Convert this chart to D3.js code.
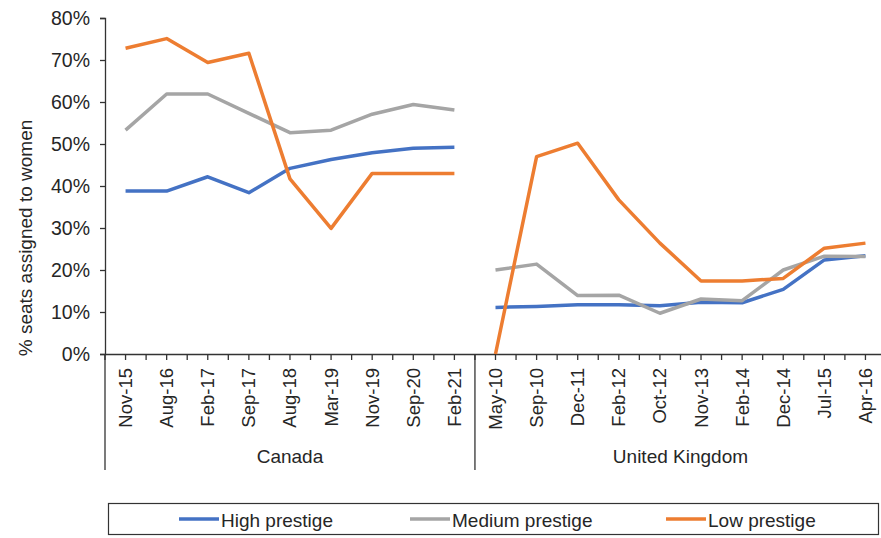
<!DOCTYPE html>
<html><head><meta charset="utf-8">
<script src="https://cdn.jsdelivr.net/npm/d3@7"></script>
<style>body{margin:0;background:#fff}svg{display:block}text{font-family:"Liberation Sans",Arial,sans-serif;fill:#262626}</style>
</head><body><svg id="c" width="881" height="538"></svg>
<script>
const canadaDates = ["Nov-15","Aug-16","Feb-17","Sep-17","Aug-18","Mar-19","Nov-19","Sep-20","Feb-21"];
const ukDates = ["May-10","Sep-10","Dec-11","Feb-12","Oct-12","Nov-13","Feb-14","Dec-14","Jul-15","Apr-16"];
const groups = ["Canada","United Kingdom"];
const seriesNames = ["High prestige","Medium prestige","Low prestige"];
const seriesColors = ["#4472C4","#A5A5A5","#ED7D31"];
const highCanada = [38.8,38.8,42.2,38.4,44.2,46.3,47.9,49.0,49.2];
const mediumCanada = [53.3,61.9,61.9,57.3,52.7,53.3,57.1,59.4,58.1];
const lowCanada = [72.8,75.1,69.4,71.6,41.7,29.9,43.0,43.0,43.0];
const highUK = [11.1,11.3,11.7,11.7,11.5,12.3,12.2,15.4,22.4,23.4];
const mediumUK = [20.0,21.4,13.9,14.0,9.7,13.1,12.7,20.0,23.3,23.2];
const lowUK = [0,47.0,50.2,36.7,26.4,17.4,17.4,18.0,25.2,26.4];
const yTicks = [0,10,20,30,40,50,60,70,80];
const yTitle = "% seats assigned to women";

const svg = d3.select("#c");
const L = 105, R = 886, T = 18, B = 354;
const keys = canadaDates.map(d => "CA|" + d).concat(ukDates.map(d => "UK|" + d));
const x = d3.scaleBand().domain(keys).range([L, R]);
const y = d3.scaleLinear().domain([0, 80]).range([B, T]);
const bw = x.bandwidth();

// y axis
const yAxis = d3.axisLeft(y).tickValues(yTicks).tickFormat(d => d + "%").tickSize(5).tickPadding(10);
const gy = svg.append("g").attr("transform", `translate(${L},0)`).call(yAxis);
gy.select(".domain").attr("stroke", "#333").attr("stroke-width", 1.3);
gy.selectAll(".tick line").attr("stroke", "#333").attr("stroke-width", 1.3);
gy.selectAll(".tick text").style("font-size", "19.5px").attr("fill", "#262626");

svg.append("text").attr("transform", `translate(25,238) rotate(-90)`)
  .attr("text-anchor", "middle").attr("dy", "0.35em").style("font-size", "19px").text(yTitle);

// x axis
const xAxis = d3.axisBottom(x).tickFormat(k => k.split("|")[1]).tickSize(6).tickSizeOuter(0).tickPadding(8);
const gx = svg.append("g").attr("transform", `translate(0,${B})`).call(xAxis);
gx.select(".domain").attr("stroke", "#333").attr("stroke-width", 1.3);
gx.selectAll(".tick line").attr("stroke", "#333").attr("stroke-width", 1.3);
gx.selectAll(".tick text").style("font-size", "18.5px")
  .attr("transform", "rotate(-90)").attr("text-anchor", "end")
  .attr("x", -14).attr("y", 0).attr("dy", "0.35em");
// boundary ticks
const boundaries = keys.map(k => x(k)).concat([x(keys[keys.length-1]) + bw]);
svg.append("g").selectAll("line").data(boundaries).join("line")
  .attr("x1", d => d).attr("x2", d => d).attr("y1", B).attr("y2", B + 6)
  .attr("stroke", "#333").attr("stroke-width", 1.3);
// group separators
const sepX = [L, x("UK|" + ukDates[0])];
svg.append("g").selectAll("line").data(sepX).join("line")
  .attr("x1", d => d).attr("x2", d => d).attr("y1", B).attr("y2", 470)
  .attr("stroke", "#333").attr("stroke-width", 1.3);
const groupCenters = [
  (x("CA|" + canadaDates[0]) + x("CA|" + canadaDates[canadaDates.length-1]) + bw) / 2,
  (x("UK|" + ukDates[0]) + x("UK|" + ukDates[ukDates.length-1]) + bw) / 2
];
svg.append("g").selectAll("text").data(groups).join("text")
  .attr("x", (d, i) => groupCenters[i]).attr("y", 463).attr("text-anchor", "middle")
  .style("font-size", "19px").text(d => d);

// lines
const series = [
  [highCanada, highUK], [mediumCanada, mediumUK], [lowCanada, lowUK]
];
const line = d3.line().x(d => x(d.k) + bw / 2).y(d => y(d.v));
series.forEach((s, i) => {
  const caPts = canadaDates.map((d, j) => ({k: "CA|" + d, v: s[0][j]}));
  const ukPts = ukDates.map((d, j) => ({k: "UK|" + d, v: s[1][j]}));
  [caPts, ukPts].forEach(pts => {
    svg.append("path").datum(pts).attr("d", line).attr("fill", "none")
      .attr("stroke", seriesColors[i]).attr("stroke-width", 3.5).attr("stroke-linejoin", "round");
  });
});

// legend
const lg = svg.append("g");
lg.append("rect").attr("x", 108.5).attr("y", 503.5).attr("width", 770).attr("height", 31)
  .attr("fill", "none").attr("stroke", "#333").attr("stroke-width", 1.2);
const legX = [179, 410, 666];
seriesNames.forEach((n, i) => {
  lg.append("line").attr("x1", legX[i]).attr("x2", legX[i] + 40).attr("y1", 519).attr("y2", 519)
    .attr("stroke", seriesColors[i]).attr("stroke-width", 3.5);
  lg.append("text").attr("x", legX[i] + 42).attr("y", 526.5)
    .style("font-size", "19px").text(n);
});
</script></body></html>
